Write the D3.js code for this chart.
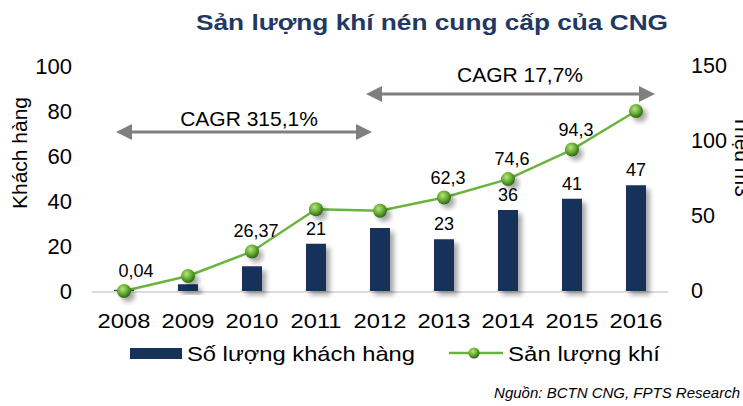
<!DOCTYPE html>
<html>
<head>
<meta charset="utf-8">
<script src="https://cdn.jsdelivr.net/npm/d3@7"></script>
<style>
  body { margin: 0; background: #fff; }
  svg { font-family: "Liberation Sans", Arial, sans-serif; }
</style>
</head>
<body>
<div id="chart"></div>
<script>
var width = 743;
var height = 406;

var years = ["2008", "2009", "2010", "2011", "2012", "2013", "2014", "2015", "2016"];
var customers = [0.5, 3, 11, 21, 28, 23, 36, 41, 47];
var customerLabels = ["", "", "", "21", "", "23", "36", "41", "47"];
var gasVolume = [0.04, 10, 26.37, 54.5, 53.5, 62.3, 74.6, 94.3, 120];
var gasLabels = ["0,04", "", "26,37", "", "", "62,3", "74,6", "94,3", ""];
var leftTicks = [0, 20, 40, 60, 80, 100];
var rightTicks = [0, 50, 100, 150];

var svg = d3.select("#chart")
  .append("svg")
  .attr("width", width)
  .attr("height", height);

var defs = svg.append("defs");

var shadow = defs.append("filter").attr("id", "shadow")
  .attr("x", "-50%").attr("y", "-50%").attr("width", "200%").attr("height", "200%");
shadow.append("feGaussianBlur").attr("in", "SourceAlpha").attr("stdDeviation", 2.5);
shadow.append("feOffset").attr("dx", 4).attr("dy", 4).attr("result", "off");
shadow.append("feComponentTransfer").append("feFuncA").attr("type", "linear").attr("slope", 0.35);
var merge = shadow.append("feMerge");
merge.append("feMergeNode");
merge.append("feMergeNode").attr("in", "SourceGraphic");

var ball = defs.append("radialGradient").attr("id", "ball")
  .attr("cx", "40%").attr("cy", "35%").attr("r", "65%");
ball.append("stop").attr("offset", "0%").attr("stop-color", "#b8e67a");
ball.append("stop").attr("offset", "50%").attr("stop-color", "#6cb33a");
ball.append("stop").attr("offset", "100%").attr("stop-color", "#2f6614");

var x = d3.scaleBand()
  .domain(years)
  .range([92, 668]);

var yLeft = d3.scaleLinear().domain([0, 100]).range([291, 66]);
var yRight = d3.scaleLinear().domain([0, 150]).range([291, 66]);

function cx(i) { return x(years[i]) + x.bandwidth() / 2; }

// title (the picture is stretched a bit wide)
svg.append("text")
  .attr("x", 196)
  .attr("y", 30)
  .attr("font-size", 22)
  .attr("font-weight", "bold")
  .attr("fill", "#1f3864")
  .attr("textLength", 472)
  .attr("lengthAdjust", "spacingAndGlyphs")
  .text("Sản lượng khí nén cung cấp của CNG");

// left axis
var leftAxis = d3.axisLeft(yLeft).tickValues(leftTicks).tickSize(0).tickPadding(0);
var gl = svg.append("g").attr("transform", "translate(72,0)").call(leftAxis);
gl.select(".domain").remove();
gl.selectAll("text").attr("font-size", 22).attr("fill", "#000")
  .attr("font-family", "Liberation Sans, Arial, sans-serif");

// right axis
var rightAxis = d3.axisRight(yRight).tickValues(rightTicks).tickSize(0).tickPadding(0);
var gr = svg.append("g").attr("transform", "translate(691,0)").call(rightAxis);
gr.select(".domain").remove();
gr.selectAll("text").attr("font-size", 21.5).attr("fill", "#000")
  .attr("font-family", "Liberation Sans, Arial, sans-serif");

// axis titles
svg.append("text")
  .attr("transform", "translate(27,153) rotate(-90)")
  .attr("text-anchor", "middle")
  .attr("font-size", 21)
  .text("Khách hàng");

svg.append("text")
  .attr("transform", "translate(735,156) rotate(90)")
  .attr("text-anchor", "middle")
  .attr("font-size", 21)
  .text("Triệu m3");

// x axis
var xAxis = d3.axisBottom(x).tickSize(0).tickPadding(0);
var gx = svg.append("g").attr("transform", "translate(0,313)").call(xAxis);
gx.select(".domain").remove();
gx.selectAll("text").attr("font-size", 21).attr("fill", "#000")
  .attr("transform", "scale(1.13,1)")
  .attr("font-family", "Liberation Sans, Arial, sans-serif");

// baseline
svg.append("line")
  .attr("x1", 92).attr("x2", 668)
  .attr("y1", 292).attr("y2", 292)
  .attr("stroke", "#d0d0d0")
  .attr("stroke-width", 1.5);

// bars
var barW = 20;
svg.selectAll("rect.bar")
  .data(customers)
  .enter()
  .append("rect")
  .attr("class", "bar")
  .attr("x", function(d, i) { return cx(i) - barW / 2; })
  .attr("y", function(d) { return yLeft(d); })
  .attr("width", barW)
  .attr("height", function(d) { return yLeft(0) - yLeft(d); })
  .attr("fill", "#17325a")
  .attr("filter", "url(#shadow)");

svg.selectAll("text.barlab")
  .data(customers)
  .enter()
  .append("text")
  .attr("class", "barlab")
  .attr("x", function(d, i) { return cx(i); })
  .attr("y", function(d) { return yLeft(d) - 9; })
  .attr("text-anchor", "middle")
  .attr("font-size", 18)
  .text(function(d, i) { return customerLabels[i]; });

// CAGR arrows
function arrow(x1, x2, y) {
  var g = svg.append("g");
  g.append("line")
    .attr("x1", x1 + 12).attr("x2", x2 - 12)
    .attr("y1", y).attr("y2", y)
    .attr("stroke", "#7f7f7f").attr("stroke-width", 3);
  g.append("path")
    .attr("d", "M" + x2 + "," + y + "L" + (x2 - 16) + "," + (y - 8) + "L" + (x2 - 16) + "," + (y + 8) + "Z")
    .attr("fill", "#7f7f7f");
  g.append("path")
    .attr("d", "M" + x1 + "," + y + "L" + (x1 + 16) + "," + (y - 8) + "L" + (x1 + 16) + "," + (y + 8) + "Z")
    .attr("fill", "#7f7f7f");
}
arrow(116, 372, 132);
arrow(366, 655, 94);

svg.append("text")
  .attr("x", 249).attr("y", 126)
  .attr("text-anchor", "middle").attr("font-size", 21)
  .text("CAGR 315,1%");
svg.append("text")
  .attr("x", 520).attr("y", 82)
  .attr("text-anchor", "middle").attr("font-size", 21)
  .text("CAGR 17,7%");

// line
var line = d3.line()
  .x(function(d, i) { return cx(i); })
  .y(function(d) { return yRight(d); });

svg.append("path")
  .datum(gasVolume)
  .attr("d", line)
  .attr("fill", "none")
  .attr("stroke", "#6ab43e")
  .attr("stroke-width", 2.5);

svg.selectAll("circle.pt")
  .data(gasVolume)
  .enter()
  .append("circle")
  .attr("class", "pt")
  .attr("cx", function(d, i) { return cx(i); })
  .attr("cy", function(d) { return yRight(d); })
  .attr("r", 7)
  .attr("fill", "url(#ball)")
  .attr("filter", "url(#shadow)");

svg.selectAll("text.ptlab")
  .data(gasVolume)
  .enter()
  .append("text")
  .attr("class", "ptlab")
  .attr("x", function(d, i) { return cx(i) + (i === 0 ? 12 : 4); })
  .attr("y", function(d) { return yRight(d) - 14; })
  .attr("text-anchor", "middle")
  .attr("font-size", 18)
  .text(function(d, i) { return gasLabels[i]; });

// legend
var legend = svg.append("g").attr("transform", "translate(0,353)");
legend.append("rect")
  .attr("x", 130).attr("y", -5)
  .attr("width", 52).attr("height", 11)
  .attr("fill", "#17325a");
legend.append("text")
  .attr("x", 187).attr("y", 7.5)
  .attr("font-size", 21)
  .attr("textLength", 228)
  .attr("lengthAdjust", "spacingAndGlyphs")
  .text("Số lượng khách hàng");
legend.append("line")
  .attr("x1", 449).attr("x2", 503)
  .attr("y1", 0).attr("y2", 0)
  .attr("stroke", "#6ab43e").attr("stroke-width", 2.5);
legend.append("circle")
  .attr("cx", 474).attr("cy", 0).attr("r", 5.5)
  .attr("fill", "url(#ball)");
legend.append("text")
  .attr("x", 508).attr("y", 7.5)
  .attr("font-size", 21)
  .attr("textLength", 152)
  .attr("lengthAdjust", "spacingAndGlyphs")
  .text("Sản lượng khí");

// source
svg.append("text")
  .attr("x", 740).attr("y", 398)
  .attr("text-anchor", "end")
  .attr("font-size", 15)
  .attr("font-style", "italic")
  .text("Nguồn: BCTN CNG, FPTS Research");
</script>
</body>
</html>
